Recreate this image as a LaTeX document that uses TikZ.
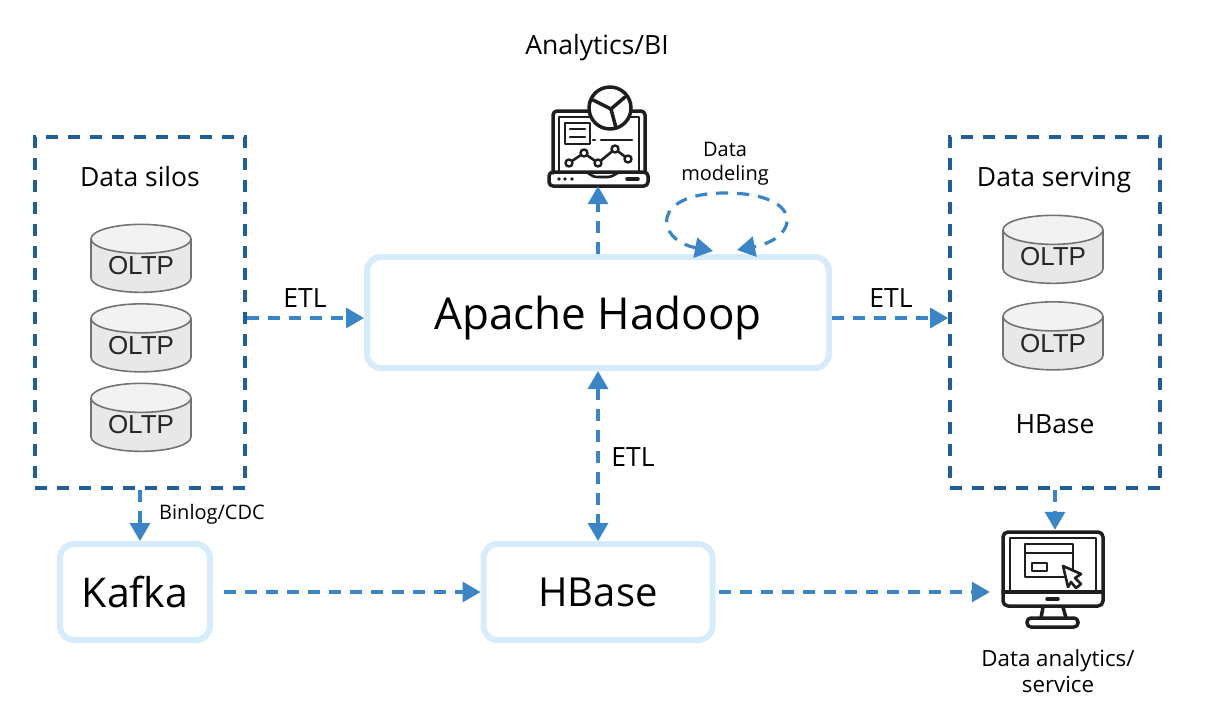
\documentclass[tikz,border=0pt]{standalone}
\usepackage{fontspec}
\setmainfont{Open Sans}
\newfontfamily\oltpfont{Liberation Sans}
\usetikzlibrary{arrows.meta,shapes.geometric}
\definecolor{flowblue}{HTML}{3A85C7}
\definecolor{silodash}{HTML}{1F5F99}
\definecolor{paleblue}{HTML}{D6ECFB}
\definecolor{icongray}{HTML}{1E1E1E}
\begin{document}
\begin{tikzpicture} [
                x=1pt,y=-1pt,
                flow/.style = {draw=flowblue,line width=3.2pt,dash pattern=on 12pt off 9pt,
                    -{Triangle[length=18pt,width=20pt,fill=flowblue]}},
                flowboth/.style = {flow,{Triangle[length=18pt,width=20pt,fill=flowblue]}-{Triangle[length=18pt,width=20pt,fill=flowblue]}},
                group/.style = {draw=silodash,line width=3.6pt,dash pattern=on 12pt off 10pt,
                    minimum width=210pt,minimum height=351pt,inner sep=0pt},
                engine/.style = {draw=paleblue,line width=6pt,rounded corners=14pt,inner sep=0pt,text depth=0pt},
                oltp/.style = {cylinder,shape border rotate=90,shape aspect=0.44,draw=black!55,line width=1.6pt,
                    cylinder uses custom fill,cylinder body fill=black!9,cylinder end fill=black!5,
                    minimum width=100pt,minimum height=68pt,inner sep=0pt,
                    font=\oltpfont\fontsize{26}{30}\selectfont,text=black!85},
                label/.style = {font=\fontsize{26.5}{30}\selectfont,text=black},
                small/.style = {font=\fontsize{20}{24}\selectfont,text=black,align=center},
                icon/.style = {draw=icongray,line width=3.5pt,line join=round,line cap=round},
                iconbox/.style = {minimum width=100pt,minimum height=100pt,inner sep=0pt},
            ]
            \useasboundingbox (0,0) rectangle (1206,720);
            % boxes
            \node[group] (silos) at (140,312.5) {};
            \node[group] (serving) at (1055,312.5) {};
            \node[engine,minimum width=462pt,minimum height=111pt,font=\fontsize{44}{50}\selectfont] (hadoop) at (598,312.5) {Apache Hadoop};
            \node[engine,minimum width=150pt,minimum height=96pt,font=\fontsize{41}{46}\selectfont] (kafka) at (135,592) {Kafka};
            \node[engine,minimum width=229pt,minimum height=96pt,font=\fontsize{40}{46}\selectfont] (hbase) at (598,592) {HBase};
            % databases
            \foreach \pos/\name in {
                    {(141,266)/a}, {(141,345.5)/b}, {(141,425)/c},
                    {(1053,257)/d}, {(1053,343.5)/e}}
                \node[oltp] (db\name) at \pos {OLTP};
            % icon holders
            \node[iconbox] (biicon) at (598,136) {};
            \node[iconbox] (appicon) at (1053,580) {};
            % laptop
            \draw[icon,rounded corners=4pt] (553,173) -- (553,111) -- (645,111) -- (645,173);
            \draw[icon,line width=2.6pt] (559,173) -- (559,117) -- (639,117) -- (639,173);
            \draw[icon,rounded corners=4pt] (549,172) -- (648,172) -- (648,186) -- (549,186) -- cycle;
            \draw[icon,line width=2.6pt] (584,172) .. controls (590,172) and (590,177) .. (598,177) -- (608,177) .. controls (614,177) and (616,172) .. (622,172);
            \draw[icon,fill=white] (610,108) circle (21pt);
            \draw[icon] (611,109) -- (593,100);
            \draw[icon] (611,109) -- (625,97);
            \draw[icon] (611,109) -- (616,128);
            \draw[icon,line width=2.6pt] (565,123) rectangle (590,144);
            \draw[icon,line width=2.4pt] (570,129) -- (585,129) (570,137) -- (585,137);
            \draw[icon,line width=2.4pt] (593,140) -- (595,140) (601,140) -- (632,140);
            \draw[icon,line width=2.6pt] (569,163) -- (584,153) -- (598,163) -- (615,149) -- (628,159);
            \foreach \pos in {(569,163),(584,153),(598,163),(615,149),(628,159)}
                \draw[icon,line width=2.4pt,fill=white] \pos circle (3.5pt);
            \foreach \pos in {559,565,572}
                \fill[icongray] (\pos,179) circle (1.8pt);
            \draw[icon] (627,179) -- (638,179);
            % monitor
            \draw[icon,rounded corners=5pt] (1003,532) rectangle (1103,606);
            \draw[icon,line width=2.6pt] (1010,592) -- (1010,538) -- (1096,538) -- (1096,592);
            \draw[icon] (1003,592) -- (1103,592);
            \draw[icon,line width=2.6pt] (1025,544) rectangle (1073,577);
            \draw[icon,line width=2.4pt] (1025,553) -- (1073,553);
            \draw[icon,line width=2.4pt] (1032,563) rectangle (1047,571);
            \draw[icon,line width=2.6pt,fill=white] (1063,566) -- (1081,574) -- (1075,578) -- (1081,584) -- (1076,588) -- (1071,582) -- (1068,587) -- cycle;
            \draw[icon] (1047,599) -- (1058,599);
            \draw[icon] (1043,607) -- (1041,618) (1063,607) -- (1066,618);
            \draw[icon,rounded corners=4pt] (1027,618) rectangle (1078,627);
            % labels
            \node[label] (bilabel) at (597,48) {Analytics/BI};
            \node[label] (silolabel) at (140,177) {Data silos};
            \node[label] (servelabel) at (1054,180) {Data serving};
            \node[label] (hbaselabel) at (1055,424) {HBase};
            \node[label] (etlleft) at (305,298) {ETL};
            \node[label] (etlright) at (891,298) {ETL};
            \node[label] (etlmid) at (633,457) {ETL};
            \node[small] (modellabel) at (725,164) {Data\\modeling};
            \node[small] (binlog) at (212,514) {Binlog/CDC};
            \node[small,font=\fontsize{22.3}{26}\selectfont] (applabel) at (1058,671) {Data analytics/\\service};
            % connectors
            \coordinate (etlrow) at (0,318);
            \coordinate (looplast) at (737,250);
            \coordinate (loopfirst) at (713,251);
            \path[flow] (silos.east |- etlrow) -- (hadoop.west |- etlrow);
            \path[flow] (hadoop.east |- etlrow) -- (serving.west |- etlrow);
            \path[flow] (hadoop.north -| biicon) -- (biicon.south);
            \path[flowboth] (hadoop.south -| hbase) -- (hbase.north);
            \path[flow] (silos.south) -- (silos.south |- kafka.north);
            \path[flow] (serving.south) -- (appicon.north -| serving.south);
            \path[flow,shorten <=11pt] (kafka.east) -- (hbase.west);
            \path[flow,shorten <=3pt,shorten >=13pt] (hbase.east) -- (appicon.west |- hbase.east);
            \path[flowboth] (loopfirst) .. controls (655,240) and (650,193) .. (725,193) .. controls (805,193) and (800,238) .. (looplast);
        \end{tikzpicture}
\end{document}
